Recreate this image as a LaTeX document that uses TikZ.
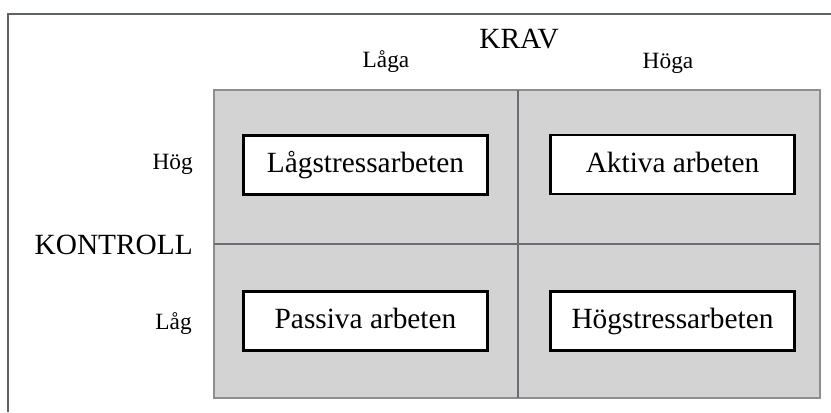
\documentclass[tikz,border=0pt]{standalone}
\usepackage{fontspec}
\setmainfont{Liberation Serif}
\definecolor{ramgra}{HTML}{5F6169}
\definecolor{linjegra}{HTML}{6B6C74}
\definecolor{kantgra}{HTML}{8E8E8E}
\definecolor{rutgra}{HTML}{D3D3D3}

\begin{document}
\begin{tikzpicture}[x=0.75pt, y=-0.75pt,
    ruta/.style={draw=black, line width=1.8pt, fill=white, minimum width=183pt,
      minimum height=44pt, inner sep=0pt, text height=16.5pt, text depth=5pt,
      font=\fontsize{22}{24}\selectfont},
    liten/.style={inner sep=0pt, font=\fontsize{17.5}{20}\selectfont},
    stor/.style={inner sep=0pt, font=\fontsize{22}{24}\selectfont}]
    \useasboundingbox (0,0) rectangle (831,412);
    % ram
    \draw[ramgra, line width=1.5pt] (8,412) -- (8,14) -- (831,14);
    % fyrfaltet
    \coordinate (nv) at (214,90);
    \coordinate (oh) at (820,398);
    \coordinate (mitt) at (518,244);
    \draw[kantgra, line width=2pt, fill=rutgra] (nv) rectangle (oh);
    \draw[linjegra, line width=2pt] (nv -| mitt) -- (oh -| mitt);
    \draw[linjegra, line width=2pt] (nv |- mitt) -- (oh |- mitt);
    % rutorna
    \node[ruta] (lagstress) at (365.5,165) {Lågstressarbeten};
    \node[ruta] (aktiva) at (672.5,164.5) {Aktiva arbeten};
    \node[ruta] (passiva) at (365.5,321) {Passiva arbeten};
    \node[ruta] (hogstress) at (672.5,321) {Högstressarbeten};
    % etiketter
    \node[stor, anchor=base] (krav) at (519,48) {KRAV};
    \node[liten, anchor=base] (laga) at (386,67) {Låga};
    \node[liten, anchor=base] (hoga) at (668,68) {Höga};
    \node[stor, anchor=base east] (kontroll) at (193,254) {KONTROLL};
    \node[liten, anchor=base east] (hog) at (193,169) {Hög};
    \node[liten, anchor=base east] (lag) at (192,329) {Låg};
\end{tikzpicture}
\end{document}
